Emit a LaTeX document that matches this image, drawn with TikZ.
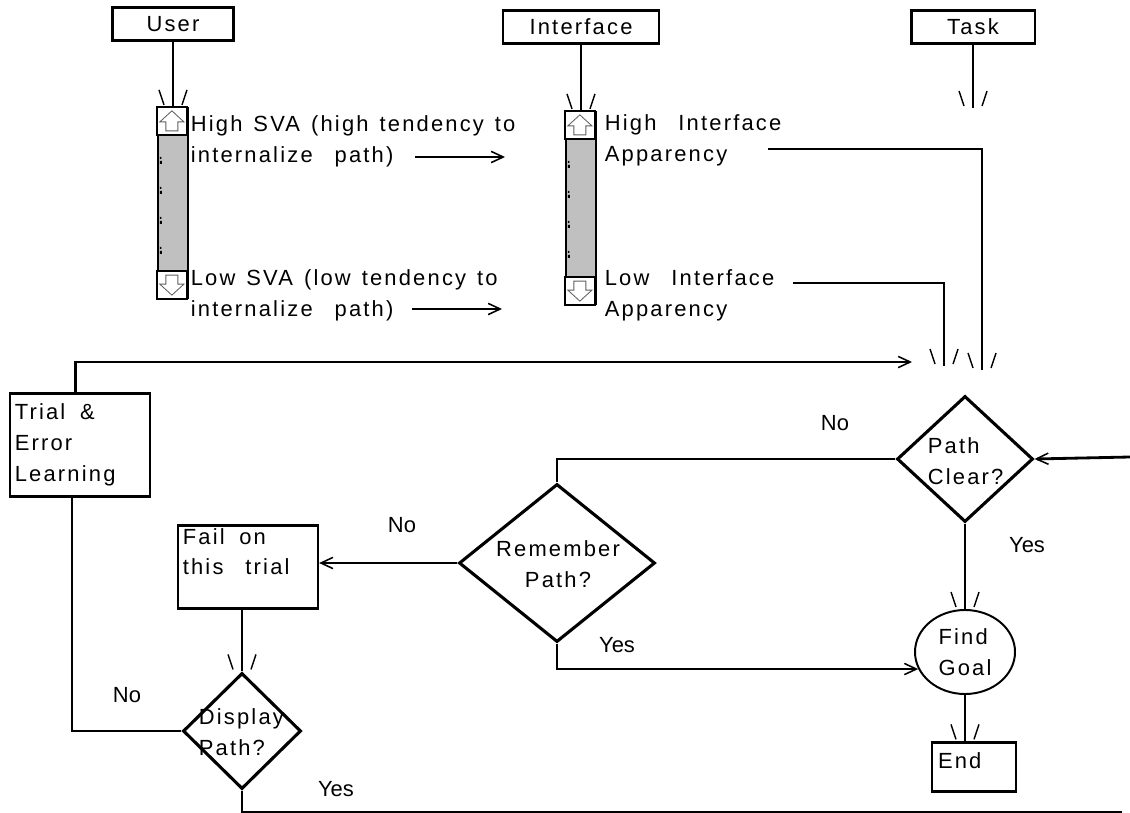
\documentclass[tikz,border=0pt]{standalone}
\usepackage{fontspec}
\setmainfont{Liberation Sans}
\newfontfamily\spaced[LetterSpace=10]{Liberation Sans}
\newcommand\lblfont{\spaced\fontsize{15.6}{22}\selectfont\spaceskip=0.5em\relax}
\usetikzlibrary{arrows.meta,shapes.geometric,positioning}
\definecolor{barfill}{HTML}{C0C0C0}
\definecolor{btnline}{HTML}{606060}

\begin{document}
\begin{tikzpicture}[x=0.025cm, y=-0.025cm, line width=2pt,
splay/.pic={\draw[line width=1pt] (-14,-17) -- (-9,-2) (14,-17) -- (9,-2);},
]
\useasboundingbox (0,0) rectangle (1130,813);

\tikzstyle{box}=[rectangle, draw, line width=1.6pt, inner sep=0pt, font =\lblfont]
\tikzstyle{lbl}=[align=left, inner sep=1pt, font =\lblfont]
\tikzstyle{ans}=[inner sep=0pt, font =\fontsize{15.6}{22}\selectfont]
\tikzstyle{bar}=[rectangle, draw, line width=1.6pt, fill=barfill, minimum width=0.75cm, inner sep=0pt]
\tikzstyle{dia}=[diamond, draw, line width=2.2pt, inner sep=0pt]
\tikzstyle{ell}=[ellipse, draw, line width=1.4pt, inner sep=0pt, align=left, font =\lblfont]
\tikzstyle{barb}=[-{Straight Barb[length=3mm,width=2.8mm,line width=1.1pt]}]

% the three sources
\node (user) [box, minimum width=3.03cm, minimum height=0.83cm] at (173,24) {User};
\node (iface) [box, minimum width=3.9cm, minimum height=0.83cm] at (581,27) {Interface};
\node (task) [box, minimum width=3.08cm, minimum height=0.83cm] at (973,27) {Task};

% scroll bars
\node (sb1) [bar, minimum height=4.75cm] at (173,203) {};
\node (sb2) [bar, minimum height=4.8cm] at (581,208) {};
\foreach \s in {sb1,sb2} {
  \draw[line width=1.2pt, fill=white] (\s.north west) rectangle ++(30,28);
  \draw[line width=1.2pt, fill=white] (\s.south west) rectangle ++(30,-28);
  \draw[line width=0.6pt, draw=btnline, shift={(\s.north west)}]
    (15,4) -- (27,15) -- (21,15) -- (21,24) -- (9,24) -- (9,15) -- (3,15) -- cycle;
  \draw[line width=0.6pt, draw=btnline, shift={(\s.south west)}]
    (15,-4) -- (27,-15) -- (21,-15) -- (21,-24) -- (9,-24) -- (9,-15) -- (3,-15) -- cycle;
  \foreach \d in {50,80,110,140}
    \fill[shift={(\s.north west)}] (3,\d) rectangle ++(1.5,2) (3,\d+4) rectangle ++(2,3);
}

% texts beside the bars
\node (hsva) [lbl, anchor=west] at (188,141) {High SVA (high tendency to\\internalize\ \ path)};
\node (lsva) [lbl, anchor=west] at (188,295) {Low SVA (low tendency to\\internalize\ \ path)};
\node (hia) [lbl, anchor=west] at (602,140) {High\ \ Interface\\Apparency};
\node (lia) [lbl, anchor=west] at (602,295) {Low\ \ Interface\\Apparency};

% flow chart
\node (trial) [box, align=left, text width=3.26cm, inner xsep=0.12cm, minimum height=2.58cm] at (80,445) {Trial\ \ \&\\Error\\Learning};
\node (fail) [box, align=left, text width=3.26cm, inner xsep=0.12cm, minimum height=2.08cm] at (248,567) {Fail\ \ on\\this\ \ \ trial\\\mbox{}};
\node (pc) [dia, minimum width=3.4cm, minimum height=3.15cm] at (965,459) {};
\node (pct) [lbl, anchor=west] at (925,461) {Path\\Clear?};
\node (rp) [dia, minimum width=4.9cm, minimum height=3.95cm] at (557,563) {};
\node (rpt) [lbl, align=center] at (558,564) {Remember\\Path?};
\node (dp) [dia, minimum width=2.95cm, minimum height=2.9cm] at (242,731) {};
\node (dpt) [lbl, anchor=west] at (196,732) {Display\\Path?};
\node (fg) [ell, minimum width=2.5cm, minimum height=2.1cm] at (965,652) {Find\\Goal};
\node (end) [box, align=left, text width=1.8cm, inner xsep=0.15cm, inner ysep=0.05cm, text height=0.6cm, text depth=0.525cm] at (974,767) {End};

\node (no1) [ans] at (835,423) {No};
\node (no2) [ans] at (402,525) {No};
\node (yes1) [ans] at (1027,545) {Yes};
\node (yes2) [ans] at (617,645) {Yes};
\node (no3) [ans] at (127,695) {No};
\node (yes3) [ans] at (336,789) {Yes};

\coordinate (hs0) at (415,157);
\coordinate (hs1) at (505,157);
\coordinate (ls0) at (412,309);
\coordinate (ls1) at (502,309);
\coordinate (hia0) at (768,149);
\coordinate (hia1) at (982,370);
\coordinate (lia0) at (793,283);
\coordinate (lia1) at (944,366);
\coordinate (task1) at (973,108);
\coordinate (fb) at (912,362);
\coordinate (pcin) at (1130,457);
\coordinate (bend) at (1122,812);

% connectors
\draw (user) -- (sb1.north); \pic at (sb1.north) {splay};
\draw (iface) -- (sb2.north); \pic at (sb2.north) {splay};
\draw (task) -- (task1); \pic at (task1) {splay};
\draw[barb] (hs0) -- (hs1);
\draw[barb] (ls0) -- (ls1);
\draw (hia0) -| (hia1); \pic at (hia1) {splay};
\draw (lia0) -| (lia1); \pic at (lia1) {splay};
\draw[barb] ([xshift=-0.12cm]trial.north) |- (fb);
\draw (pc.west) -| (rp.north);
\draw[barb] (pcin) -- (pc.east);
\draw[barb] (rp.west) -- (rp.west -| fail.east);
\draw[barb] (rp.south) |- (fg.200);
\draw (pc.south) -- (fg.north); \pic at (fg.north) {splay};
\draw (fg.south) -- (fg.south |- end.north); \pic at (fg.south |- end.north) {splay};
\draw (dp.north |- fail.south) -- (dp.north); \pic at (dp.north) {splay};
\draw (dp.west) -| ([xshift=-0.2cm]trial.south);
\draw (dp.south) |- (bend);
\end{tikzpicture}
\end{document}
